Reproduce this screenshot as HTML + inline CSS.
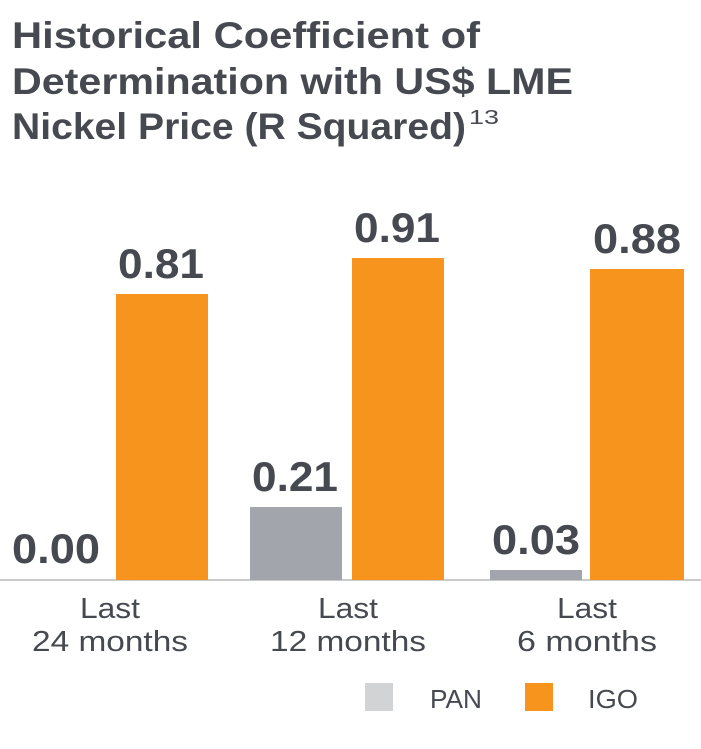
<!DOCTYPE html>
<html><head><meta charset="utf-8"><style>
html,body{margin:0;padding:0;background:#fff;}
svg{display:block;}
text{font-family:"Liberation Sans",sans-serif;}
</style></head><body>
<svg width="701" height="749" viewBox="0 0 701 749" xmlns="http://www.w3.org/2000/svg">
<g fill="#464a50" font-weight="bold" font-size="37">
<text x="12" y="48" textLength="468" lengthAdjust="spacingAndGlyphs">Historical Coefficient of</text>
<text x="12" y="94" textLength="561" lengthAdjust="spacingAndGlyphs">Determination with US$ LME</text>
<text x="12" y="139" textLength="454" lengthAdjust="spacingAndGlyphs">Nickel Price (R Squared)</text>
</g>
<text x="469" y="124" font-size="20" fill="#464a50" textLength="30" lengthAdjust="spacingAndGlyphs">13</text>
<line x1="0" y1="580" x2="701" y2="580" stroke="#c8cacc" stroke-width="2"/>
<rect x="116" y="294" width="92" height="286" fill="#f7941d"/>
<rect x="352" y="258" width="92" height="322" fill="#f7941d"/>
<rect x="590" y="269" width="94" height="311" fill="#f7941d"/>
<rect x="250" y="507" width="92" height="73" fill="#a2a5ab"/>
<rect x="490" y="570" width="92" height="10" fill="#a2a5ab"/>
<g fill="#464a50" font-weight="bold" font-size="42">
<text x="12" y="563" textLength="88" lengthAdjust="spacingAndGlyphs">0.00</text>
<text x="118" y="278" textLength="86" lengthAdjust="spacingAndGlyphs">0.81</text>
<text x="354" y="242" textLength="86" lengthAdjust="spacingAndGlyphs">0.91</text>
<text x="593" y="253" textLength="88" lengthAdjust="spacingAndGlyphs">0.88</text>
<text x="252" y="491" textLength="86" lengthAdjust="spacingAndGlyphs">0.21</text>
<text x="492" y="554" textLength="88" lengthAdjust="spacingAndGlyphs">0.03</text>
</g>
<g fill="#464a50" font-size="29">
<text x="80" y="618" textLength="60" lengthAdjust="spacingAndGlyphs">Last</text>
<text x="32" y="651" textLength="156" lengthAdjust="spacingAndGlyphs">24 months</text>
<text x="318" y="618" textLength="60" lengthAdjust="spacingAndGlyphs">Last</text>
<text x="270" y="651" textLength="156" lengthAdjust="spacingAndGlyphs">12 months</text>
<text x="557" y="618" textLength="60" lengthAdjust="spacingAndGlyphs">Last</text>
<text x="517" y="651" textLength="140" lengthAdjust="spacingAndGlyphs">6 months</text>
</g>
<rect x="365" y="683" width="28" height="28" fill="#d1d3d4"/>
<text x="430" y="708" font-size="26" fill="#464a50" textLength="52" lengthAdjust="spacingAndGlyphs">PAN</text>
<rect x="525" y="683" width="28" height="28" fill="#f7941d"/>
<text x="588" y="708" font-size="26" fill="#464a50" textLength="50" lengthAdjust="spacingAndGlyphs">IGO</text>
</svg>
</body></html>
